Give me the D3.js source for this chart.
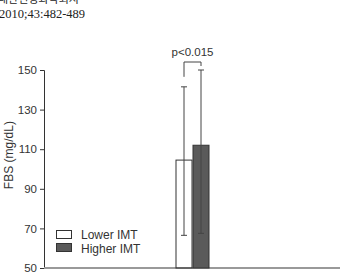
<!DOCTYPE html>
<html><head><meta charset="utf-8">
<script src="https://cdn.jsdelivr.net/npm/d3@7"></script>
<style>body{margin:0;background:#fff}svg{display:block}</style>
</head><body>
<script>
const groups = ["Lower IMT", "Higher IMT"];
const means = [104.5, 112];
const upper = [141.5, 150];
const lower = [66.5, 67.5];
const yTicks = [50, 70, 90, 110, 130, 150];
const colors = ["#ffffff", "#5a5a5a"];
const pLabel = "p<0.015";
const header1 = "대한신경과학회지";
const header2 = "2010;43:482-489";

const W = 340, H = 273;
const svg = d3.select("body").append("svg").attr("width", W).attr("height", H);

svg.append("text").attr("x", -2).attr("y", 3).attr("font-family", "Noto Sans CJK KR, serif")
  .attr("font-size", 11).attr("fill", "#222").text(header1);
svg.append("text").attr("x", -1).attr("y", 18).attr("font-family", "Liberation Serif, serif")
  .attr("font-size", 12.5).attr("fill", "#222").text(header2);

const y = d3.scaleLinear().domain([50, 150]).range([268, 70]);
const x = d3.scaleBand().domain(groups).range([175.5, 209.5]).paddingInner(0);

const yAxis = svg.append("g").attr("transform", "translate(44,0)")
  .call(d3.axisLeft(y).tickValues(yTicks).tickSize(4).tickPadding(3));
yAxis.select(".domain").attr("stroke", "#333");
yAxis.selectAll(".tick line").attr("stroke", "#333");
yAxis.selectAll("text").attr("font-family", "Liberation Sans, Arial, sans-serif")
  .attr("font-size", 11.5).attr("fill", "#333");

svg.append("line").attr("x1", 44).attr("x2", W).attr("y1", y(50)).attr("y2", y(50))
  .attr("stroke", "#999").attr("stroke-width", 2);

svg.append("text").attr("transform", "translate(12.5," + y(107) + ") rotate(-90)")
  .attr("text-anchor", "middle").attr("font-family", "Liberation Sans, Arial, sans-serif")
  .attr("font-size", 12).attr("fill", "#333").text("FBS (mg/dL)");

// bars
svg.selectAll("rect.bar").data(groups).enter().append("rect").attr("class", "bar")
  .attr("x", d => x(d) + 0.5).attr("width", x.bandwidth() - 1)
  .attr("y", (d, i) => y(means[i])).attr("height", (d, i) => y(50) - y(means[i]))
  .attr("fill", (d, i) => colors[i]).attr("fill-opacity", (d, i) => i === 0 ? 0 : 1)
  .attr("stroke", "#333").attr("stroke-width", 1);

// error bars
groups.forEach((g, i) => {
  const cx = x(g) + x.bandwidth() / 2;
  const eb = svg.append("g").attr("stroke", "#444").attr("stroke-width", 1);
  eb.append("line").attr("x1", cx).attr("x2", cx).attr("y1", y(upper[i])).attr("y2", y(lower[i]));
  eb.append("line").attr("x1", cx - 3).attr("x2", cx + 3).attr("y1", y(lower[i])).attr("y2", y(lower[i]));
  eb.append("line").attr("x1", cx - 3).attr("x2", cx + 3).attr("y1", y(upper[i])).attr("y2", y(upper[i]));
});

// significance bracket
const c0 = x(groups[0]) + x.bandwidth() / 2, c1 = x(groups[1]) + x.bandwidth() / 2;
const by = 62;
svg.append("path").attr("fill", "none").attr("stroke", "#444").attr("stroke-width", 1)
  .attr("d", `M${c0},${y(upper[0]) - 10}V${by}H${c1}V${y(upper[1]) - 4}`);
svg.append("text").attr("x", (c0 + c1) / 2).attr("y", 56).attr("text-anchor", "middle")
  .attr("font-family", "Liberation Sans, Arial, sans-serif").attr("font-size", 11.5)
  .attr("fill", "#333").text(pLabel);

// legend
const lg = svg.append("g");
groups.forEach((g, i) => {
  lg.append("rect").attr("x", 56.5).attr("y", 230.5 + i * 13).attr("width", 15).attr("height", 8)
    .attr("fill", colors[i]).attr("stroke", "#333");
  lg.append("text").attr("x", 81).attr("y", 239 + i * 13.5)
    .attr("font-family", "Liberation Sans, Arial, sans-serif").attr("font-size", 12)
    .attr("fill", "#333").text(g);
});
</script>
</body></html>
